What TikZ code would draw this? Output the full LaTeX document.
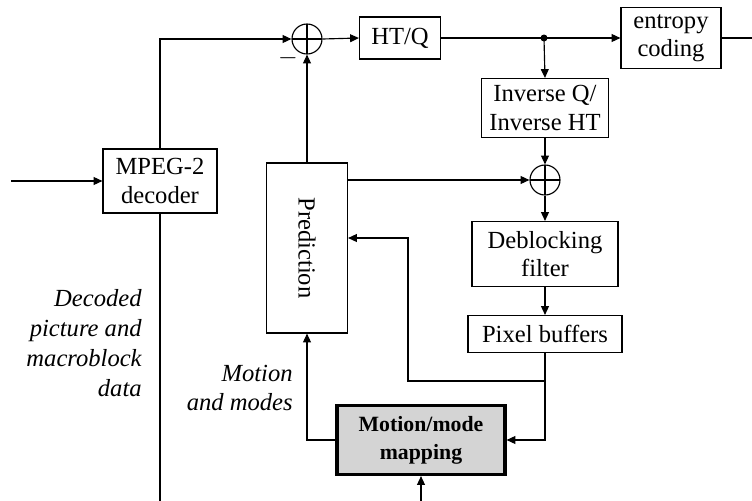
\documentclass[tikz,border=0pt]{standalone}
\usepackage{fontspec}
\setmainfont{Liberation Serif}
\usetikzlibrary{arrows.meta}

\begin{document}
\begin{tikzpicture}[x=0.02cm, y=-0.02cm,
  blk/.style={draw, rectangle, inner sep=0pt, align=center, line width=0.65pt,
              font=\fontsize{14}{16}\selectfont},
  sum/.style={draw, circle, minimum size=0.6cm, inner sep=0pt, line width=0.65pt,
              path picture={\draw[line width=0.65pt]
                (path picture bounding box.north) -- (path picture bounding box.south)
                (path picture bounding box.west) -- (path picture bounding box.east);}},
  lnk/.style={-{Triangle[length=5pt,width=4.5pt]}, line width=0.65pt},
  ln/.style={line width=0.65pt},
  lbl/.style={font=\fontsize{14}{17}\selectfont\itshape, align=right, inner sep=0pt},
]
\useasboundingbox (0,0) rectangle (752,501);

% blocks
\node[blk, minimum width=2.28cm, minimum height=1.28cm] (dec) at (160,181) {MPEG-2\\decoder};
\node[sum] (s1) at (307,39) {};
\node[blk, minimum width=1.62cm, minimum height=0.84cm] (htq) at (400,38) {HT/Q};
\node[blk, minimum width=2.0cm, minimum height=1.22cm] (ent) at (671,38) {entropy\\coding};
\node[blk, minimum width=2.54cm, minimum height=1.18cm] (iq) at (545,108) {Inverse Q/\\Inverse HT};
\node[sum] (s2) at (545,180) {};
\node[blk, minimum width=2.92cm, minimum height=1.3cm] (dbf) at (545,254) {Deblocking\\filter};
\node[blk, minimum width=3.08cm, minimum height=0.74cm] (pix) at (545,334) {Pixel buffers};
\node[blk, minimum width=1.62cm, minimum height=3.4cm] (pred) at (307,248) {\rotatebox{-90}{Prediction}};
\node[blk, minimum width=3.36cm, minimum height=1.38cm, line width=1.8pt, fill=black!17,
      font=\fontsize{12.4}{16}\selectfont\bfseries] (mm) at (421,440) {Motion/mode\\mapping};

% labels
\node[lbl, anchor=east] (dlbl) at (142,343) {Decoded\\picture and\\macroblock\\data};
\node[lbl, anchor=east] (mlbl) at (293,388) {Motion\\and modes};
\node[font=\fontsize{14}{16}\selectfont, inner sep=0pt] (neg) at (288,58) {$-$};

% free ends
\coordinate (in) at (11,181);
\coordinate (out) at (752,38);
\coordinate (bot) at (160,501);
\coordinate (bot2) at (421,501);
\coordinate (tap) at (544,38);
\coordinate (fb) at (545,381);
\coordinate (fbl) at (408,381);

% connectors
\draw[lnk] (in) -- (dec.west);
\draw[lnk] (dec.north) |- (s1.west);
\draw[ln] (dec.south) -- (bot);
\draw[lnk] (s1.east) -- (htq.west);
\draw[ln] (htq.east) -- (tap);
\draw[lnk] (tap) -- (ent.west);
\fill (tap) circle (3.5);
\draw[ln] (ent.east) -- (out);
\draw[lnk] (tap) -- (iq.north);
\draw[lnk] (iq.south) -- (s2.north);
\draw[lnk] (s2.south) -- (dbf.north);
\draw[lnk] (dbf.south) -- (pix.north);
\draw[lnk] (pred.north) -- (s1.south);
\draw[lnk] (pred.east |- s2) -- (s2.west);
\draw[lnk] (pix.south) |- (fbl) |- ([yshift=0.2cm]pred.east);
\draw[lnk] (fb) |- (mm.east);
\draw[lnk] (mm.west) -| (pred.south);
\draw[lnk] (bot2) -- (mm.south);
\end{tikzpicture}
\end{document}
